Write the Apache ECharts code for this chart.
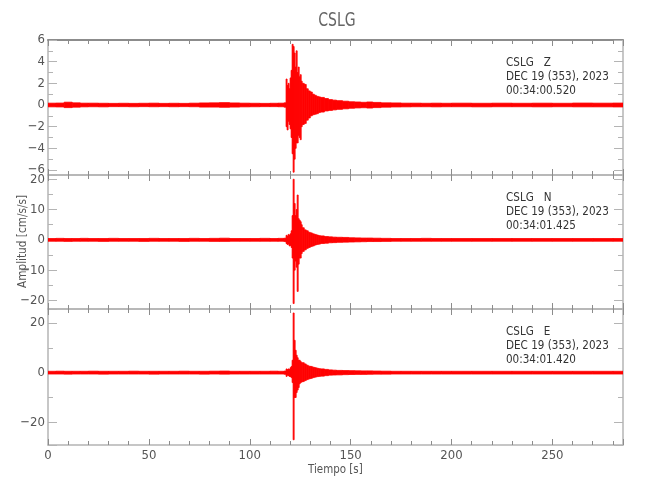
<!DOCTYPE html>
<html>
<head>
<meta charset="utf-8">
<script src="https://cdn.jsdelivr.net/npm/echarts@6/dist/echarts.min.js"></script>
<style>html,body{margin:0;padding:0;background:#fff;}#c{width:650px;height:500px;}</style>
</head>
<body>
<div id="c"></div>
<script>
// ---- data ----
const stationName = 'CSLG';
const componentLabels = ['CSLG   Z', 'CSLG   N', 'CSLG   E'];
const dateLabel = 'DEC 19 (353), 2023';
const startTimes = ['00:34:00.520', '00:34:01.425', '00:34:01.420'];
const timeEnd = 285;
const xTicks = [0, 50, 100, 150, 200, 250];
// bin start times [s]; each bin ends where the next begins
const binStart = [0,4,8,12,16,20,25,30,35,40,45,50,55,60,65,70,75,80,85,90,95,100,105,110,114,117,
  118,118.5,119,119.5,120,120.5,121,121.5,122,122.5,123,123.5,124,124.5,125,125.5,
  126,127,128,129,130,131,132,133,134,135,
  137,139,141,143,
  146,149,152,155,158,161,
  165,170,175,180,185,190,195,200,
  210,220,230,240,250,260,270,280];
// Z component envelope (max / min per bin)
const zHigh = [0.17,0.18,0.26,0.2,0.17,0.17,0.16,0.15,0.16,0.15,0.16,0.17,0.15,0.16,0.15,0.17,0.19,0.2,0.22,0.19,0.17,0.16,0.15,0.16,0.17,0.2,
  2.4,1.8,2.0,1.5,2.5,3.2,5.6,5.4,4.8,3.5,5.0,3.0,3.5,2.6,2.8,2.2,
  2.0,1.9,1.5,1.3,1.2,1.0,0.9,0.8,0.75,0.7,
  0.6,0.5,0.45,0.4,
  0.35,0.3,0.28,0.25,0.28,0.24,
  0.2,0.19,0.17,0.17,0.16,0.17,0.16,0.17,
  0.16,0.17,0.16,0.17,0.16,0.18,0.17,0.18];
const zLow = [-0.17,-0.18,-0.24,-0.2,-0.17,-0.16,-0.17,-0.15,-0.15,-0.16,-0.15,-0.16,-0.15,-0.16,-0.15,-0.16,-0.19,-0.19,-0.21,-0.19,-0.17,-0.16,-0.15,-0.15,-0.16,-0.2,
  -2.0,-2.3,-1.5,-1.8,-2.2,-3.0,-4.5,-6.2,-5.0,-4.0,-3.5,-3.5,-2.8,-3.0,-3.2,-2.0,
  -1.8,-1.7,-1.4,-1.2,-1.0,-0.9,-0.85,-0.8,-0.7,-0.65,
  -0.55,-0.5,-0.45,-0.4,
  -0.35,-0.3,-0.27,-0.25,-0.28,-0.24,
  -0.2,-0.18,-0.17,-0.16,-0.16,-0.17,-0.16,-0.16,
  -0.17,-0.16,-0.16,-0.17,-0.16,-0.17,-0.17,-0.18];
// N component
const nHigh = [0.45,0.5,0.45,0.45,0.5,0.45,0.45,0.5,0.45,0.45,0.45,0.5,0.45,0.45,0.45,0.5,0.45,0.5,0.55,0.45,0.45,0.45,0.5,0.45,0.5,0.55,
  1.5,1.2,1.8,1.5,2.0,3.0,8.0,20.0,12.0,8.0,10.0,14.8,7.0,6.5,6.0,5.0,
  4.0,3.3,3.0,2.5,2.3,2.0,1.8,1.6,1.4,1.3,
  1.1,1.0,0.9,0.85,
  0.8,0.7,0.65,0.6,0.6,0.55,
  0.5,0.45,0.45,0.45,0.5,0.45,0.45,0.45,
  0.45,0.45,0.45,0.45,0.45,0.45,0.45,0.45];
const nLow = [-0.45,-0.45,-0.5,-0.45,-0.45,-0.45,-0.5,-0.45,-0.45,-0.45,-0.5,-0.45,-0.45,-0.45,-0.5,-0.45,-0.45,-0.5,-0.5,-0.45,-0.45,-0.45,-0.45,-0.45,-0.45,-0.55,
  -1.2,-1.5,-1.4,-2.0,-1.8,-2.5,-6.0,-21.0,-10.0,-7.0,-9.0,-17.0,-8.0,-6.0,-6.0,-4.5,
  -3.8,-3.3,-2.8,-2.5,-2.2,-2.0,-1.7,-1.5,-1.4,-1.2,
  -1.1,-0.95,-0.9,-0.8,
  -0.75,-0.7,-0.65,-0.6,-0.55,-0.55,
  -0.5,-0.45,-0.45,-0.45,-0.45,-0.45,-0.45,-0.45,
  -0.45,-0.45,-0.45,-0.45,-0.45,-0.45,-0.45,-0.45];
// E component
const eHigh = [0.55,0.6,0.55,0.55,0.55,0.6,0.55,0.55,0.55,0.6,0.55,0.55,0.55,0.55,0.6,0.55,0.55,0.6,0.65,0.55,0.55,0.55,0.55,0.6,0.55,0.65,
  1.5,1.2,1.5,1.3,2.0,2.5,5.0,24.0,13.0,9.0,7.0,6.0,5.0,5.0,4.5,4.0,
  4.0,3.5,3.0,2.6,2.5,2.2,2.0,1.8,1.6,1.5,
  1.3,1.1,1.0,0.9,
  0.85,0.8,0.75,0.7,0.7,0.65,
  0.6,0.55,0.55,0.55,0.55,0.55,0.55,0.55,
  0.55,0.55,0.55,0.55,0.55,0.55,0.55,0.55];
const eLow = [-0.55,-0.55,-0.6,-0.55,-0.55,-0.55,-0.6,-0.55,-0.55,-0.55,-0.55,-0.6,-0.55,-0.55,-0.55,-0.55,-0.6,-0.55,-0.6,-0.55,-0.55,-0.55,-0.55,-0.55,-0.55,-0.65,
  -1.5,-1.0,-1.2,-1.5,-1.6,-2.0,-4.0,-27.0,-10.0,-10.0,-8.0,-7.0,-6.0,-4.5,-4.0,-3.8,
  -3.6,-3.2,-2.8,-2.5,-2.3,-2.0,-1.8,-1.6,-1.5,-1.4,
  -1.2,-1.0,-0.95,-0.9,
  -0.8,-0.75,-0.7,-0.7,-0.65,-0.6,
  -0.6,-0.55,-0.55,-0.55,-0.55,-0.55,-0.55,-0.55,
  -0.55,-0.55,-0.55,-0.55,-0.55,-0.55,-0.55,-0.55];
// y-axis extents of the three panels
const yMin = [-6.46, -22.8, -29.1];
const yMax = [6, 21.4, 25.6];
const yStep = [2, 10, 20];

// ---- build ----
const FONT = "'DejaVu Sans Condensed','DejaVu Sans',sans-serif";
const AX = '#b4b4b4';
function bins(lo, hi) {
  return binStart.map((t, i) => [t, i < binStart.length - 1 ? binStart[i + 1] : timeEnd, lo[i], hi[i]]);
}
const traces = [bins(zLow, zHigh), bins(nLow, nHigh), bins(eLow, eHigh)];

const grids = [
  { left: 48, right: 27, top: 40, height: 135 },
  { left: 48, right: 27, top: 175, height: 134 },
  { left: 48, right: 27, top: 309, height: 136 }
];
function fmtNum(v) { return String(v).replace('-', '\u2212'); }
const xAxes = [], yAxes = [];
for (let g = 0; g < 3; g++) {
  ['bottom', 'top'].forEach(pos => {
    xAxes.push({
      type: 'value', gridIndex: g, position: pos, min: 0, max: timeEnd, interval: 50,
      axisLine: { show: true, onZero: false, lineStyle: { color: (g === 0 && pos === 'top') ? '#8c8c8c' : AX, width: (g === 0 && pos === 'top') ? 2 : 1.5 } },
      axisTick: { show: true, inside: true, length: 6, lineStyle: { color: '#8c8c8c' } },
      minorTick: { show: true, splitNumber: 5, length: 4, lineStyle: { color: '#8c8c8c' } },
      splitLine: { show: false },
      axisLabel: {
        show: g === 2 && pos === 'bottom', margin: 4, color: '#555', fontFamily: FONT, fontSize: 13,
        formatter: v => (xTicks.indexOf(v) >= 0 ? String(v) : '')
      }
    });
  });
  ['left', 'right'].forEach(pos => {
    yAxes.push({
      type: 'value', gridIndex: g, position: pos, min: yMin[g], max: yMax[g], splitNumber: [6, 4, 3][g],
      axisLine: { show: true, onZero: false, lineStyle: { color: AX, width: 1.5 } },
      axisTick: { show: true, inside: true, length: 9, lineStyle: { color: AX } },
      minorTick: { show: true, splitNumber: 2, length: 5, lineStyle: { color: AX } },
      splitLine: { show: false },
      axisLabel: {
        show: pos === 'left', margin: 3, color: '#555', fontFamily: FONT, fontSize: 13,
        formatter: v => (Math.abs(v / yStep[g] - Math.round(v / yStep[g])) < 1e-6 ? fmtNum(Math.round(v)) : '')
      }
    });
  });
}

function renderBand(params, api) {
  const x0 = api.value(0), x1 = api.value(1), lo = api.value(2), hi = api.value(3);
  const p0 = api.coord([x0, hi]);
  const p1 = api.coord([x1, lo]);
  return {
    type: 'rect',
    shape: { x: p0[0], y: p0[1], width: Math.max(p1[0] - p0[0], 1), height: Math.max(p1[1] - p0[1], 1) },
    style: { fill: '#ff0000', stroke: '#ff0000', lineWidth: 0.8 }
  };
}
const series = traces.map((d, g) => ({
  type: 'custom', xAxisIndex: g * 2, yAxisIndex: g * 2, data: d,
  renderItem: renderBand, encode: { x: [0, 1], y: [2, 3] }, clip: true, silent: true, animation: false
}));

const annotTop = [56, 191, 325];
const graphics = [];
for (let g = 0; g < 3; g++) {
  [componentLabels[g], dateLabel, startTimes[g]].forEach((s, k) => {
    graphics.push({ type: 'text', x: 506, y: annotTop[g] + k * 14, scaleX: 0.89,
      style: { text: s, fill: '#333', font: '13px ' + FONT } });
  });
}
graphics.push({ type: 'text', x: 337, y: 12, scaleX: 0.82,
  style: { text: stationName, fill: '#666', font: '19px ' + FONT, textAlign: 'center' } });
graphics.push({ type: 'text', x: 308, y: 463, scaleX: 0.88,
  style: { text: 'Tiempo [s]', fill: '#555', font: '13px ' + FONT } });
graphics.push({ type: 'text', x: 16, y: 288, rotation: Math.PI / 2, scaleX: 0.9,
  style: { text: 'Amplitud [cm/s/s]', fill: '#555', font: '13px ' + FONT } });

const chart = echarts.init(document.getElementById('c'), null, { renderer: 'canvas' });
chart.setOption({
  animation: false,
  backgroundColor: '#ffffff',
  grid: grids,
  xAxis: xAxes,
  yAxis: yAxes,
  series: series,
  graphic: graphics
});
</script>
</body>
</html>
